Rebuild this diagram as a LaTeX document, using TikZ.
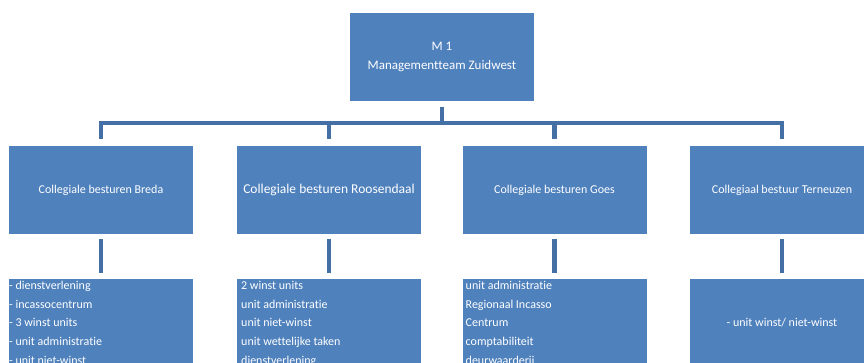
\documentclass[tikz,border=0pt]{standalone}
\usepackage{fontspec}
\setmainfont{Carlito}[Ligatures=NoCommon]
\usepackage{xcolor}
\usetikzlibrary{positioning, calc}
\definecolor{boxblue}{HTML}{4F81BD}
\definecolor{lineblue}{HTML}{4470A6}

\begin{document}
\begin{tikzpicture}[
    x=1pt, y=-1pt,
    box/.style={rectangle, fill=boxblue, draw=none, minimum width=184pt, minimum height=88pt, inner sep=0pt, outer sep=0pt, align=center, text=white, font=\fontsize{12}{14}\selectfont},
    list/.style={inner sep=0pt, align=left, text=white, font=\fontsize{12}{18.7}\selectfont},
    conn/.style={draw=lineblue, line width=4.5pt}
]
\clip (0,0) rectangle (864,363);
\node[box, font=\fontsize{13}{19}\selectfont] (mt) at (442,57) {M 1\\Managementteam Zuidwest};
\node[box] (breda) at (101,190) {Collegiale besturen Breda};
\node[box, font=\fontsize{13.5}{16}\selectfont] (roosendaal) at (329,190) {Collegiale besturen Roosendaal};
\node[box] (goes) at (554.5,190) {Collegiale besturen Goes};
\node[box] (terneuzen) at (782,190) {Collegiaal bestuur Terneuzen};
\node[box] (bredaunits) at (101,323) {};
\node[box] (roosendaalunits) at (329,323) {};
\node[box] (goesunits) at (554.5,323) {};
\node[box] (terneuzenunits) at (782,323) {- unit winst/ niet-winst};
\node[list, below right=2pt and 0pt of bredaunits.north west] (bredalist) {- dienstverlening\\- incassocentrum\\- 3 winst units\\- unit administratie\\- unit niet-winst};
\node[list, below right=2pt and 4pt of roosendaalunits.north west] (roosendaallist) {2 winst units\\unit administratie\\unit niet-winst\\unit wettelijke taken\\dienstverlening};
\node[list, below right=2pt and 3pt of goesunits.north west] (goeslist) {unit administratie\\Regionaal Incasso\\Centrum\\comptabiliteit\\deurwaarderij};
\coordinate (bar) at (442,123);
\draw[conn, shorten <=6pt, shorten >=7pt] (mt.south) -- (mt.south |- bar) -| (breda.north);
\draw[conn, shorten <=6pt, shorten >=7pt] (mt.south) -- (mt.south |- bar) -| (roosendaal.north);
\draw[conn, shorten <=6pt, shorten >=7pt] (mt.south) -- (mt.south |- bar) -| (goes.north);
\draw[conn, shorten <=6pt, shorten >=7pt] (mt.south) -- (mt.south |- bar) -| (terneuzen.north);
\draw[conn, shorten <=5pt, shorten >=6pt] (breda) -- (bredaunits);
\draw[conn, shorten <=5pt, shorten >=6pt] (roosendaal) -- (roosendaalunits);
\draw[conn, shorten <=5pt, shorten >=6pt] (goes) -- (goesunits);
\draw[conn, shorten <=5pt, shorten >=6pt] (terneuzen) -- (terneuzenunits);
\end{tikzpicture}
\end{document}
